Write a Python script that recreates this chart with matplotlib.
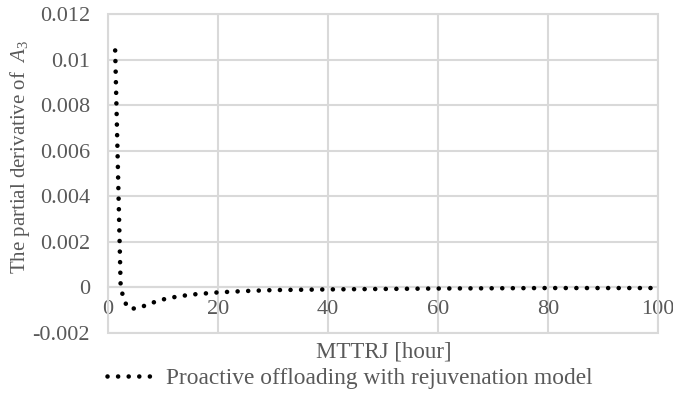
import matplotlib
matplotlib.use("Agg")
import matplotlib.pyplot as plt
from matplotlib.patches import Rectangle

# MTTRJ [hour] vs partial derivative of A3
mttrj = [1.3, 1.8, 2.3, 2.8, 3.5, 4.5, 5.2, 6.5, 8, 10, 12, 15, 20, 25, 30,
         40, 50, 60, 70, 80, 90, 99]
deriv = [0.0104, 0.0052, 0.0, -0.00045, -0.00088, -0.00093, -0.00092,
         -0.00082, -0.00068, -0.00053, -0.00043, -0.00032, -0.00022,
         -0.00016, -0.00012, -0.00009, -0.00007, -0.00005, -0.00004,
         -0.00003, -0.00003, -0.00003]

yticks = [-0.002, 0, 0.002, 0.004, 0.006, 0.008, 0.01, 0.012]
ytick_labels = ["-0.002", "0", "0.002", "0.004", "0.006", "0.008", "0.01", "0.012"]
xticks = [0, 20, 40, 60, 80, 100]

GRID = "#d9d9d9"
TXT = "#595959"

plt.rcParams.update({
    "font.family": ["Liberation Serif", "DejaVu Serif"],
    "mathtext.fontset": "custom",
    "mathtext.rm": "Liberation Serif",
    "mathtext.it": "Liberation Serif:italic",
    "font.size": 16,
})

fig = plt.figure(figsize=(6.73, 4.07), dpi=100)
ax = fig.add_axes([0.1605, 0.182, 0.8175, 0.7836])

ax.plot(mttrj, deriv, color="black", linewidth=3.3,
        linestyle=(0, (0.01, 2.3)), dash_capstyle="round",
        label="Proactive offloading with rejuvenation model", zorder=3)

ax.set_xlim(0, 100)
ax.set_ylim(-0.002, 0.012)
ax.set_yticks(yticks)
ax.set_yticklabels(ytick_labels)
ax.set_xticks(xticks)
ax.grid(True, color=GRID, linewidth=1.5)
ax.set_axisbelow(True)

for side in ("top", "right", "left"):
    ax.spines[side].set_visible(False)
ax.spines["bottom"].set_position(("data", 0))
ax.spines["bottom"].set_color(GRID)
ax.spines["bottom"].set_linewidth(1.5)
ax.add_patch(Rectangle((0, 0), 1, 1, transform=ax.transAxes, fill=False,
                       edgecolor=GRID, linewidth=1.5, clip_on=False, zorder=1))

ax.tick_params(length=0, colors=TXT, labelsize=16)
ax.tick_params(axis="x", pad=9)
ax.tick_params(axis="y", pad=13)

ax.set_ylabel("The partial derivative of  $A_3$", color=TXT, fontsize=15)
ax.yaxis.set_label_coords(-0.138, 0.552)
fig.text(0.571, 0.135, "MTTRJ [hour]", color=TXT, fontsize=16.5,
         ha="center", va="center")

fig.legend(loc="center", bbox_to_anchor=(0.52, 0.071), frameon=False,
           handlelength=2.2, handletextpad=0.35, fontsize=16.8, labelcolor=TXT)

fig.savefig("out.png", dpi=100)
